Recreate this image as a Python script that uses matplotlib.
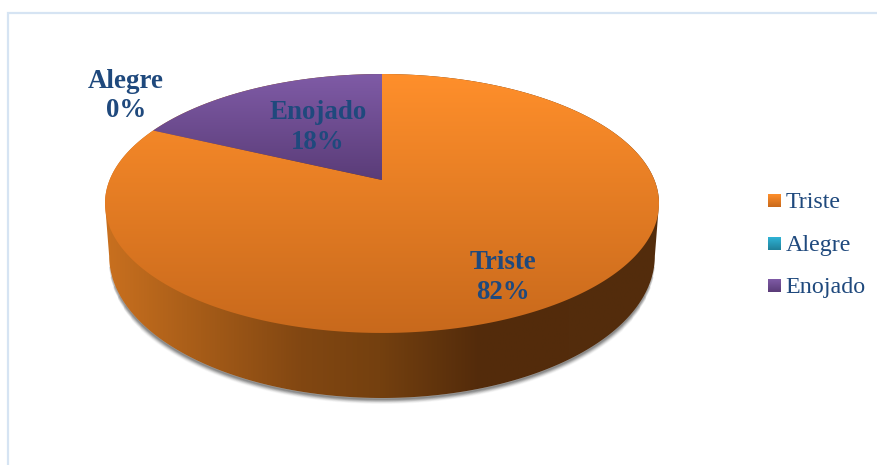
import numpy as np
import matplotlib
matplotlib.use("Agg")
import matplotlib.pyplot as plt
from matplotlib.colors import LinearSegmentedColormap as LSC
from matplotlib.patches import Polygon

categories = ["Triste", "Alegre", "Enojado"]
values = [82, 0, 18]
top_colors = {"Triste": ("#FF8F2B", "#C8691C"),
              "Alegre": ("#2FB4D6", "#1F7F99"),
              "Enojado": ("#7F5BA6", "#5A3C78")}
label_pos = {"Triste": (503, 277.5), "Alegre": (126, 96), "Enojado": (318, 127.5)}
legend_y = [201, 244, 286]
side_stops = [(105, "#C9701F"), (200, "#A65C18"), (300, "#824712"), (380, "#74400F"),
              (480, "#532B0B"), (659, "#532D0D")]
TEXT = "#1F497D"
SERIF = "Liberation Serif"

fig = plt.figure(figsize=(8.78, 4.65), dpi=100)
ax = fig.add_axes([0, 0, 1, 1])
ax.set_xlim(0, 878)
ax.set_ylim(465, 0)
ax.axis("off")

CX, CY, R, A, K = 382, 180, 272.4, 125.2, 0.1815


def project(theta, sx=1.0, sy=1.0, dy=0.0):
    """Clockwise angle from the top (radians) to pixel position on the tilted disc."""
    u, v = np.sin(theta), np.cos(theta)
    w = 1 + K * v
    return CX + sx * R * u / w, CY + dy - sy * A * v / w


def grad_image(poly_xy, extent, c0, c1, horizontal=False, cmap=None, z=2):
    cm = cmap or LSC.from_list("g", [c0, c1])
    g = np.linspace(0, 1, 256)
    g = g[None, :] if horizontal else g[:, None]
    im = ax.imshow(g, cmap=cm, extent=extent, aspect="auto", zorder=z,
                   vmin=0, vmax=1, interpolation="bilinear")
    im.set_clip_path(Polygon(poly_xy, closed=True, transform=ax.transData))
    return im


# chart-area frame
ax.plot([8, 8, 878], [465, 13, 13], color="#D6E4F3", lw=1.6, zorder=1,
        solid_joinstyle="miter")

# side wall outline: upper disc's widest points joined round the lower rim
SX, SY, DY = 0.985, 1.097, 50.2
tl = np.pi - np.arccos(K)
lo_t = np.linspace(tl, 2 * np.pi - tl, 400)
lx, ly = project(lo_t, SX, SY, DY)
wall_full = np.r_[np.c_[*project(np.linspace(-tl, tl, 400))], np.c_[lx, ly]]

# soft drop shadow along the lower rim, tapering towards both ends
for i, a in zip(range(7, 0, -1), [0.04, 0.07, 0.10, 0.14, 0.18, 0.22, 0.26]):
    trim = np.radians(4 * i)
    st = np.linspace(tl + trim, 2 * np.pi - tl - trim, 300)
    sx_, sy_ = project(st, SX, SY, DY)
    ax.plot(sx_, sy_ + 1.2, color="#555555", alpha=a, lw=i, zorder=1.5,
            solid_capstyle="round")

# side wall
xs = np.array([s[0] for s in side_stops], float)
side_cmap = LSC.from_list("side", [((x - xs[0]) / (xs[-1] - xs[0]), c) for x, c in side_stops])
grad_image(wall_full, (105, 659, 400, 70), None, None, horizontal=True, cmap=side_cmap, z=2)

# top face wedges
total = sum(values)
start = 0.0
for name, val in zip(categories, values):
    sweep = 2 * np.pi * val / total
    if val > 0:
        th = np.linspace(start, start + sweep, 500)
        x, y = project(th)
        poly = np.r_[[[CX, CY]], np.c_[x, y]]
        c0, c1 = top_colors[name]
        ext = (x.min() - 1, x.max() + 1, max(y.max(), CY), y.min())
        grad_image(poly, ext, c0, c1, z=3)
    px, py = label_pos[name]
    ax.text(px, py, f"{name}\n{round(100 * val / total)}%", color=TEXT, family=SERIF,
            weight="bold", fontsize=19.4, ha="center", va="center", linespacing=1.25, zorder=5)
    start += sweep

# legend
for name, ly_ in zip(categories, legend_y):
    c0, c1 = top_colors[name]
    sq = [(768, ly_ - 7), (781, ly_ - 7), (781, ly_ + 6), (768, ly_ + 6)]
    grad_image(sq, (768, 781, ly_ + 6, ly_ - 7), c0, c1, z=4)
    ax.text(785.5, ly_ + 1, name, color=TEXT, family=SERIF, fontsize=17.3, ha="left",
            va="center", zorder=5)

ax.set_xlim(0, 878)
ax.set_ylim(465, 0)
fig.savefig("out.png", dpi=100, facecolor="white")
